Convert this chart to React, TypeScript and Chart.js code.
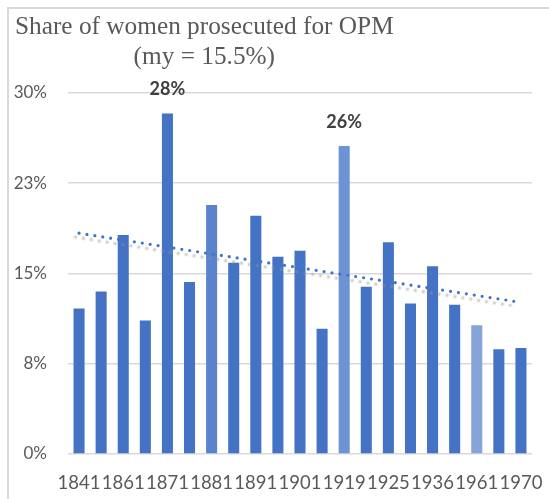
import React, { useEffect, useRef } from "react";
import { Chart, registerables } from "chart.js";

Chart.register(...registerables);

const years = [
  "1841", "1851", "1861", "1866", "1871", "1876", "1881", "1886", "1891", "1896",
  "1901", "1911", "1919", "1921", "1925", "1931", "1936", "1951", "1961", "1966", "1970",
];
const shownYears = ["1841", "1861", "1871", "1881", "1891", "1901", "1919", "1925", "1936", "1961", "1970"];
const shares = [
  12.1, 13.5, 18.2, 11.1, 28.3, 14.3, 20.7, 15.9, 19.8, 16.4,
  16.9, 10.4, 25.6, 13.9, 17.6, 12.5, 15.6, 12.4, 10.7, 8.7, 8.8,
];
const barColors = [
  "#4472C4", "#4472C4", "#4472C4", "#4472C4", "#4472C4", "#4472C4", "#5A83CD", "#4472C4", "#4472C4", "#4472C4",
  "#4472C4", "#4472C4", "#6D93D6", "#4472C4", "#4472C4", "#4472C4", "#4472C4", "#4472C4", "#86A4DA", "#4472C4", "#4472C4",
];
const labelledBars = [4, 12];
const trendStart = 18.35;
const trendEnd = 12.6;
const yTicks = [0, 7.5, 15, 22.5, 30];

export default function App() {
  const ref = useRef<HTMLCanvasElement>(null);

  useEffect(() => {
    if (!ref.current) return;
    const trend = years.map((_, i) => (i === 0 ? trendStart : i === years.length - 1 ? trendEnd : null));

    const shadowPlugin = {
      id: "trendShadow",
      beforeDatasetDraw(chart: any, args: any) {
        if (args.index === 1) {
          const ctx = chart.ctx;
          ctx.save();
          ctx.shadowColor = "rgba(150,150,150,0.55)";
          ctx.shadowOffsetX = -3.5;
          ctx.shadowOffsetY = 4;
          ctx.shadowBlur = 1.5;
        }
      },
      afterDatasetDraw(chart: any, args: any) {
        if (args.index === 1) chart.ctx.restore();
      },
    };

    const labelPlugin = {
      id: "barLabels",
      afterDatasetsDraw(chart: any) {
        const ctx = chart.ctx;
        const meta = chart.getDatasetMeta(0);
        ctx.save();
        ctx.font = "bold 18px Lato";
        ctx.fillStyle = "#404040";
        ctx.textAlign = "center";
        ctx.textBaseline = "middle";
        labelledBars.forEach((i) => {
          const el = meta.data[i];
          ctx.fillText(Math.round(shares[i]) + "%", el.x, el.y - 24);
        });
        ctx.restore();
      },
    };

    const chart = new Chart(ref.current, {
      type: "bar",
      data: {
        labels: years,
        datasets: [
          {
            type: "bar",
            data: shares,
            backgroundColor: barColors,
            categoryPercentage: 1,
            barPercentage: 0.5,
            order: 2,
          } as any,
          {
            type: "line",
            data: trend,
            spanGaps: true,
            borderColor: "#4472C4",
            borderWidth: 3.2,
            borderDash: [0, 8],
            borderCapStyle: "round",
            pointRadius: 0,
            fill: false,
            order: 1,
          } as any,
        ],
      },
      options: {
        animation: false,
        responsive: false,
        devicePixelRatio: 1,
        layout: { padding: { top: 93, right: 17, left: 0, bottom: 0 } },
        plugins: {
          legend: { display: false },
          title: { display: false },
          tooltip: { enabled: false },
        },
        scales: {
          x: {
            grid: { display: false, drawTicks: false },
            border: { display: false },
            ticks: {
              autoSkip: false,
              maxRotation: 0,
              minRotation: 0,
              padding: 18,
              color: "#595959",
              font: { family: "Lato", size: 18.5 },
              callback: (_v: any, i: number) => (shownYears.includes(years[i]) && i % 2 === 0 ? years[i] : ""),
            },
            afterFit: (s: any) => {
              s.height = 45;
              s.paddingLeft = 0;
              s.paddingRight = 0;
            },
          },
          y: {
            min: 0,
            max: 30,
            afterBuildTicks: (s: any) => {
              s.ticks = yTicks.map((v) => ({ value: v }));
            },
            grid: { color: "#d9d9d9", lineWidth: 1.6, drawTicks: false },
            border: { display: false },
            ticks: {
              padding: 21,
              color: "#595959",
              font: { family: "Lato", size: 17 },
              callback: (v: any) => Math.round(v) + "%",
            },
            afterFit: (s: any) => {
              s.width = 68;
            },
          },
        },
      },
      plugins: [shadowPlugin, labelPlugin],
    });
    return () => chart.destroy();
  }, []);

  return (
    <div style={{ position: "absolute", left: 0, top: 0, width: 549, height: 499, background: "#fff", overflow: "hidden" }}>
      <div
        style={{
          position: "absolute",
          left: 7,
          top: 7,
          width: 560,
          height: 510,
          borderLeft: "2px solid #d9d9d9",
          borderTop: "2px solid #d9d9d9",
        }}
      />
      <canvas ref={ref} width={549} height={499} style={{ position: "absolute", left: 0, top: 0 }} />
      <div
        style={{
          position: "absolute",
          left: 15,
          top: 10,
          display: "inline-block",
          textAlign: "center",
          fontFamily: "'Liberation Serif', 'Times New Roman', serif",
          fontSize: 25.3,
          lineHeight: "30px",
          color: "#595959",
          whiteSpace: "nowrap",
        }}
      >
        Share of women prosecuted for OPM
        <br />
        (my = 15.5%)
      </div>
    </div>
  );
}
